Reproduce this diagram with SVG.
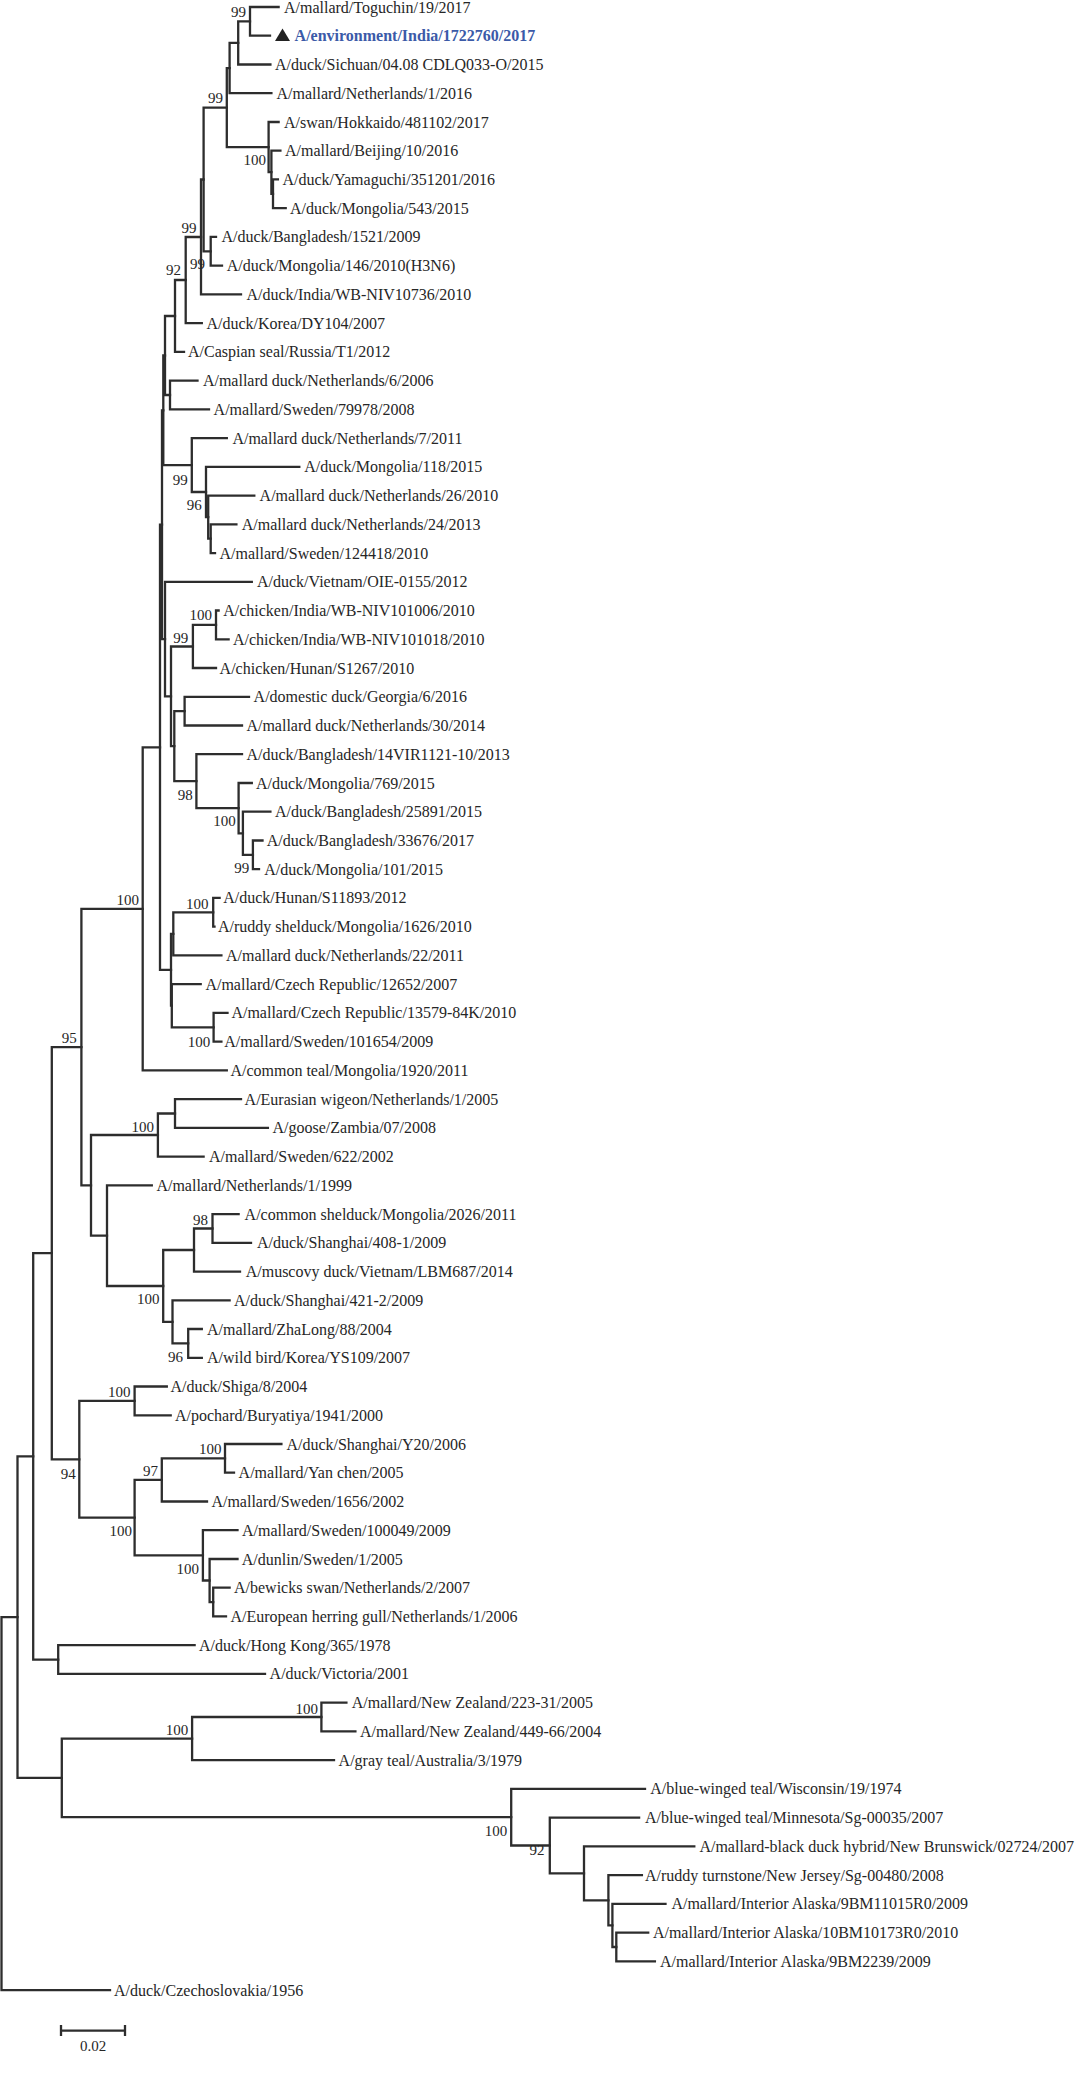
<svg xmlns="http://www.w3.org/2000/svg" width="1077" height="2076" viewBox="0 0 1077 2076">
<style>
.e{fill:none;stroke:#2d2d2d;stroke-width:2.3;stroke-linecap:square}
.t{font-family:"Liberation Serif","Times New Roman",serif;font-size:16px;fill:#262626}
.b{font-family:"Liberation Serif","Times New Roman",serif;font-size:15px;fill:#262626;text-anchor:end}
.hl{font-weight:bold;fill:#3b5aa8}
</style>
<rect width="1077" height="2076" fill="#fff"/>
<g id="connectors">
<path class="e" d="M1.5 1803.6V1617.2H17.5M1.5 1803.6V1990.1H110"/>
<path class="e" d="M17.5 1617.2V1456.4H33.2M17.5 1617.2V1777.9H61.8"/>
<path class="e" d="M33.2 1456.4V1253.2H51.8M33.2 1456.4V1659.6H58.2"/>
<path class="e" d="M51.8 1253.2V1047.1H81.4M51.8 1253.2V1459.3H79.3"/>
<path class="e" d="M81.4 1047.1V908.8H142.7M81.4 1047.1V1185.4H91"/>
<path class="e" d="M142.7 908.8V747.3H160M142.7 908.8V1070.4H226.8"/>
<path class="e" d="M160 747.3V524.7H162M160 747.3V969.8H171"/>
<path class="e" d="M162 524.7V410.3H163.3M162 524.7V639.1H165"/>
<path class="e" d="M163.3 410.3V355.5H165M163.3 410.3V465.1H191.8"/>
<path class="e" d="M165 355.5V316H175M165 355.5V395H170"/>
<path class="e" d="M175 316V280H185.7M175 316V351.9H184"/>
<path class="e" d="M185.7 280V237H201M185.7 280V323.1H201.8"/>
<path class="e" d="M201 237V179.5H203.6M201 237V294.4H241"/>
<path class="e" d="M203.6 179.5V107.6H226.8M203.6 179.5V251.3H210.7"/>
<path class="e" d="M210.7 251.3V236.9H216M210.7 251.3V265.7H222"/>
<path class="e" d="M226.8 107.6V68.1H229.6M226.8 107.6V147.1H268.6"/>
<path class="e" d="M229.6 68.1V42.9H238.2M229.6 68.1V93.2H271.4"/>
<path class="e" d="M238.2 42.9V21.4H250M238.2 42.9V64.5H270.4"/>
<path class="e" d="M250 21.4V7H278.6M250 21.4V35.7H270"/>
<path class="e" d="M268.6 147.1V122H278.6M268.6 147.1V172.2H271.4"/>
<path class="e" d="M271.4 172.2V150.7H280.4M271.4 172.2V193.8H273"/>
<path class="e" d="M273 193.8V179.4H277.9M273 193.8V208.2H285.7"/>
<path class="e" d="M170 395V380.6H197.5M170 395V409.4H209"/>
<path class="e" d="M191.8 465.1V438.1H226.8M191.8 465.1V492H206"/>
<path class="e" d="M206 492V466.8H299.3M206 492V517.1H208.2"/>
<path class="e" d="M208.2 517.1V495.6H254.3M208.2 517.1V538.7H210.7"/>
<path class="e" d="M210.7 538.7V524.3H236.4M210.7 538.7V553.1H215"/>
<path class="e" d="M165 639.1V581.8H251.8M165 639.1V696.3H171"/>
<path class="e" d="M171 696.3V646.5H192.9M171 696.3V746.2H174.3"/>
<path class="e" d="M192.9 646.5V624.9H216M192.9 646.5V668H216"/>
<path class="e" d="M216 624.9V610.5H218.6M216 624.9V639.3H228.6"/>
<path class="e" d="M174.3 746.2V711.1H184.6M174.3 746.2V781.2H196.4"/>
<path class="e" d="M184.6 711.1V696.8H249M184.6 711.1V725.5H242"/>
<path class="e" d="M196.4 781.2V754.2H242M196.4 781.2V808.1H238.6"/>
<path class="e" d="M238.6 808.1V783H251.8M238.6 808.1V833.3H242.9"/>
<path class="e" d="M242.9 833.3V811.7H270.4M242.9 833.3V854.8H252.9"/>
<path class="e" d="M252.9 854.8V840.5H262.5M252.9 854.8V869.2H259"/>
<path class="e" d="M171 969.8V933.9H173.3M171 969.8V1005.7H171.8"/>
<path class="e" d="M173.3 933.9V912.3H213.2M173.3 933.9V955.4H221.4"/>
<path class="e" d="M213.2 912.3V897.9H219.6M213.2 912.3V926.7H214.5"/>
<path class="e" d="M171.8 1005.7V984.2H200.7M171.8 1005.7V1027.3H213.6"/>
<path class="e" d="M213.6 1027.3V1012.9H227.5M213.6 1027.3V1041.6H221.4"/>
<path class="e" d="M91 1185.4V1135H157.9M91 1185.4V1235.7H107"/>
<path class="e" d="M157.9 1135V1113.5H175M157.9 1135V1156.6H203.6"/>
<path class="e" d="M175 1113.5V1099.1H241M175 1113.5V1127.9H267.9"/>
<path class="e" d="M107 1235.7V1185.3H151.8M107 1235.7V1286H163.2"/>
<path class="e" d="M163.2 1286V1250H194M163.2 1286V1321.9H172.5"/>
<path class="e" d="M194 1250V1228.5H212.5M194 1250V1271.6H240"/>
<path class="e" d="M212.5 1228.5V1214.1H238.6M212.5 1228.5V1242.8H251"/>
<path class="e" d="M172.5 1321.9V1300.3H229.6M172.5 1321.9V1343.4H188.2"/>
<path class="e" d="M188.2 1343.4V1329H201.8M188.2 1343.4V1357.8H201.8"/>
<path class="e" d="M79.3 1459.3V1400.9H134.6M79.3 1459.3V1517.6H134.6"/>
<path class="e" d="M134.6 1400.9V1386.5H166.8M134.6 1400.9V1415.3H170.7"/>
<path class="e" d="M134.6 1517.6V1479.9H161.8M134.6 1517.6V1555.4H202.9"/>
<path class="e" d="M161.8 1479.9V1458.4H225M161.8 1479.9V1501.5H207"/>
<path class="e" d="M225 1458.4V1444H281.4M225 1458.4V1472.7H234"/>
<path class="e" d="M202.9 1555.4V1530.2H237.5M202.9 1555.4V1580.5H209.6"/>
<path class="e" d="M209.6 1580.5V1559H237.5M209.6 1580.5V1602.1H213.2"/>
<path class="e" d="M213.2 1602.1V1587.7H229.6M213.2 1602.1V1616.4H226"/>
<path class="e" d="M58.2 1659.6V1645.2H194.6M58.2 1659.6V1673.9H265"/>
<path class="e" d="M61.8 1777.9V1738.6H192.1M61.8 1777.9V1817.2H511.2"/>
<path class="e" d="M192.1 1738.6V1717H321.4M192.1 1738.6V1760.1H334"/>
<path class="e" d="M321.4 1717V1702.7H346.4M321.4 1717V1731.4H355.4"/>
<path class="e" d="M511.2 1817.2V1788.9H645M511.2 1817.2V1845.5H549.8"/>
<path class="e" d="M549.8 1845.5V1817.6H639.1M549.8 1845.5V1873.3H584"/>
<path class="e" d="M584 1873.3V1846.4H694.3M584 1873.3V1900.3H608.4"/>
<path class="e" d="M608.4 1900.3V1875.1H641.9M608.4 1900.3V1925.4H612.4"/>
<path class="e" d="M612.4 1925.4V1903.8H665.5M612.4 1925.4V1947H616.3"/>
<path class="e" d="M616.3 1947V1932.6H648.2M616.3 1947V1961.3H654.9"/>
</g>
<g id="leaves">
<g id="leaf00"><text class="t" x="284" y="12.5">A/mallard/Toguchin/19/2017</text></g>
<g id="leaf01"><polygon points="275,41 290,41 282.5,28.5" fill="#222"/><text class="t hl" x="294.6" y="41.2">A/environment/India/1722760/2017</text></g>
<g id="leaf02"><text class="t" x="275" y="70">A/duck/Sichuan/04.08 CDLQ033-O/2015</text></g>
<g id="leaf03"><text class="t" x="276.5" y="98.7">A/mallard/Netherlands/1/2016</text></g>
<g id="leaf04"><text class="t" x="284" y="127.5">A/swan/Hokkaido/481102/2017</text></g>
<g id="leaf05"><text class="t" x="285" y="156.2">A/mallard/Beijing/10/2016</text></g>
<g id="leaf06"><text class="t" x="282.5" y="184.9">A/duck/Yamaguchi/351201/2016</text></g>
<g id="leaf07"><text class="t" x="290" y="213.7">A/duck/Mongolia/543/2015</text></g>
<g id="leaf08"><text class="t" x="221.4" y="242.4">A/duck/Bangladesh/1521/2009</text></g>
<g id="leaf09"><text class="t" x="226.8" y="271.2">A/duck/Mongolia/146/2010(H3N6)</text></g>
<g id="leaf10"><text class="t" x="246.4" y="299.9">A/duck/India/WB-NIV10736/2010</text></g>
<g id="leaf11"><text class="t" x="206.4" y="328.6">A/duck/Korea/DY104/2007</text></g>
<g id="leaf12"><text class="t" x="188" y="357.4">A/Caspian seal/Russia/T1/2012</text></g>
<g id="leaf13"><text class="t" x="202.9" y="386.1">A/mallard duck/Netherlands/6/2006</text></g>
<g id="leaf14"><text class="t" x="213.6" y="414.9">A/mallard/Sweden/79978/2008</text></g>
<g id="leaf15"><text class="t" x="232.4" y="443.6">A/mallard duck/Netherlands/7/2011</text></g>
<g id="leaf16"><text class="t" x="304.3" y="472.3">A/duck/Mongolia/118/2015</text></g>
<g id="leaf17"><text class="t" x="259.6" y="501.1">A/mallard duck/Netherlands/26/2010</text></g>
<g id="leaf18"><text class="t" x="241.8" y="529.8">A/mallard duck/Netherlands/24/2013</text></g>
<g id="leaf19"><text class="t" x="219.5" y="558.6">A/mallard/Sweden/124418/2010</text></g>
<g id="leaf20"><text class="t" x="257" y="587.3">A/duck/Vietnam/OIE-0155/2012</text></g>
<g id="leaf21"><text class="t" x="223.2" y="616">A/chicken/India/WB-NIV101006/2010</text></g>
<g id="leaf22"><text class="t" x="232.9" y="644.8">A/chicken/India/WB-NIV101018/2010</text></g>
<g id="leaf23"><text class="t" x="219.6" y="673.5">A/chicken/Hunan/S1267/2010</text></g>
<g id="leaf24"><text class="t" x="253.6" y="702.3">A/domestic duck/Georgia/6/2016</text></g>
<g id="leaf25"><text class="t" x="246.4" y="731">A/mallard duck/Netherlands/30/2014</text></g>
<g id="leaf26"><text class="t" x="246.4" y="759.7">A/duck/Bangladesh/14VIR1121-10/2013</text></g>
<g id="leaf27"><text class="t" x="256" y="788.5">A/duck/Mongolia/769/2015</text></g>
<g id="leaf28"><text class="t" x="275" y="817.2">A/duck/Bangladesh/25891/2015</text></g>
<g id="leaf29"><text class="t" x="266.8" y="846">A/duck/Bangladesh/33676/2017</text></g>
<g id="leaf30"><text class="t" x="264.3" y="874.7">A/duck/Mongolia/101/2015</text></g>
<g id="leaf31"><text class="t" x="223.2" y="903.4">A/duck/Hunan/S11893/2012</text></g>
<g id="leaf32"><text class="t" x="217.9" y="932.2">A/ruddy shelduck/Mongolia/1626/2010</text></g>
<g id="leaf33"><text class="t" x="226" y="960.9">A/mallard duck/Netherlands/22/2011</text></g>
<g id="leaf34"><text class="t" x="205.4" y="989.7">A/mallard/Czech Republic/12652/2007</text></g>
<g id="leaf35"><text class="t" x="231.4" y="1018.4">A/mallard/Czech Republic/13579-84K/2010</text></g>
<g id="leaf36"><text class="t" x="224.3" y="1047.1">A/mallard/Sweden/101654/2009</text></g>
<g id="leaf37"><text class="t" x="230.4" y="1075.9">A/common teal/Mongolia/1920/2011</text></g>
<g id="leaf38"><text class="t" x="244.6" y="1104.6">A/Eurasian wigeon/Netherlands/1/2005</text></g>
<g id="leaf39"><text class="t" x="272.5" y="1133.4">A/goose/Zambia/07/2008</text></g>
<g id="leaf40"><text class="t" x="209" y="1162.1">A/mallard/Sweden/622/2002</text></g>
<g id="leaf41"><text class="t" x="156.4" y="1190.8">A/mallard/Netherlands/1/1999</text></g>
<g id="leaf42"><text class="t" x="244.6" y="1219.6">A/common shelduck/Mongolia/2026/2011</text></g>
<g id="leaf43"><text class="t" x="257" y="1248.3">A/duck/Shanghai/408-1/2009</text></g>
<g id="leaf44"><text class="t" x="245.7" y="1277.1">A/muscovy duck/Vietnam/LBM687/2014</text></g>
<g id="leaf45"><text class="t" x="234" y="1305.8">A/duck/Shanghai/421-2/2009</text></g>
<g id="leaf46"><text class="t" x="207" y="1334.5">A/mallard/ZhaLong/88/2004</text></g>
<g id="leaf47"><text class="t" x="207" y="1363.3">A/wild bird/Korea/YS109/2007</text></g>
<g id="leaf48"><text class="t" x="170.4" y="1392">A/duck/Shiga/8/2004</text></g>
<g id="leaf49"><text class="t" x="175" y="1420.8">A/pochard/Buryatiya/1941/2000</text></g>
<g id="leaf50"><text class="t" x="286.4" y="1449.5">A/duck/Shanghai/Y20/2006</text></g>
<g id="leaf51"><text class="t" x="238.6" y="1478.2">A/mallard/Yan chen/2005</text></g>
<g id="leaf52"><text class="t" x="211.4" y="1507">A/mallard/Sweden/1656/2002</text></g>
<g id="leaf53"><text class="t" x="242" y="1535.7">A/mallard/Sweden/100049/2009</text></g>
<g id="leaf54"><text class="t" x="241.8" y="1564.5">A/dunlin/Sweden/1/2005</text></g>
<g id="leaf55"><text class="t" x="234" y="1593.2">A/bewicks swan/Netherlands/2/2007</text></g>
<g id="leaf56"><text class="t" x="230.4" y="1621.9">A/European herring gull/Netherlands/1/2006</text></g>
<g id="leaf57"><text class="t" x="199" y="1650.7">A/duck/Hong Kong/365/1978</text></g>
<g id="leaf58"><text class="t" x="269.6" y="1679.4">A/duck/Victoria/2001</text></g>
<g id="leaf59"><text class="t" x="351.8" y="1708.2">A/mallard/New Zealand/223-31/2005</text></g>
<g id="leaf60"><text class="t" x="360" y="1736.9">A/mallard/New Zealand/449-66/2004</text></g>
<g id="leaf61"><text class="t" x="338.6" y="1765.6">A/gray teal/Australia/3/1979</text></g>
<g id="leaf62"><text class="t" x="650.2" y="1794.4">A/blue-winged teal/Wisconsin/19/1974</text></g>
<g id="leaf63"><text class="t" x="645" y="1823.1">A/blue-winged teal/Minnesota/Sg-00035/2007</text></g>
<g id="leaf64"><text class="t" x="699.4" y="1851.9">A/mallard-black duck hybrid/New Brunswick/02724/2007</text></g>
<g id="leaf65"><text class="t" x="645" y="1880.6">A/ruddy turnstone/New Jersey/Sg-00480/2008</text></g>
<g id="leaf66"><text class="t" x="671.4" y="1909.3">A/mallard/Interior Alaska/9BM11015R0/2009</text></g>
<g id="leaf67"><text class="t" x="652.9" y="1938.1">A/mallard/Interior Alaska/10BM10173R0/2010</text></g>
<g id="leaf68"><text class="t" x="660" y="1966.8">A/mallard/Interior Alaska/9BM2239/2009</text></g>
<g id="leaf69"><text class="t" x="114" y="1995.6">A/duck/Czechoslovakia/1956</text></g>
</g>
<g id="bootstrap">
<g id="bs-N1"><text class="b" x="246" y="17">99</text></g>
<g id="bs-N4"><text class="b" x="223" y="103">99</text></g>
<g id="bs-N5"><text class="b" x="266" y="165">100</text></g>
<g id="bs-N10"><text class="b" x="196.4" y="233">99</text></g>
<g id="bs-N9"><text class="b" x="205" y="269">99</text></g>
<g id="bs-N11"><text class="b" x="181" y="275">92</text></g>
<g id="bs-Nd"><text class="b" x="187.7" y="485">99</text></g>
<g id="bs-Nc"><text class="b" x="201.7" y="510">96</text></g>
<g id="bs-C1"><text class="b" x="212" y="620">100</text></g>
<g id="bs-C2"><text class="b" x="188.3" y="643">99</text></g>
<g id="bs-B1"><text class="b" x="192.8" y="799.5">98</text></g>
<g id="bs-B3"><text class="b" x="235.7" y="826">100</text></g>
<g id="bs-B4"><text class="b" x="249.3" y="873">99</text></g>
<g id="bs-Nbig"><text class="b" x="139" y="904.5">100</text></g>
<g id="bs-H1"><text class="b" x="208.5" y="908.5">100</text></g>
<g id="bs-Z1"><text class="b" x="210.3" y="1046.5">100</text></g>
<g id="bs-T1"><text class="b" x="76.8" y="1042.5">95</text></g>
<g id="bs-W2"><text class="b" x="154" y="1132">100</text></g>
<g id="bs-S1"><text class="b" x="208" y="1224.5">98</text></g>
<g id="bs-S5"><text class="b" x="159.6" y="1304">100</text></g>
<g id="bs-S4"><text class="b" x="182.9" y="1362">96</text></g>
<g id="bs-U1"><text class="b" x="130.4" y="1397">100</text></g>
<g id="bs-U8"><text class="b" x="75.7" y="1478.5">94</text></g>
<g id="bs-U3"><text class="b" x="157.9" y="1476">97</text></g>
<g id="bs-U2"><text class="b" x="221.4" y="1453.5">100</text></g>
<g id="bs-U7"><text class="b" x="132" y="1536">100</text></g>
<g id="bs-U4"><text class="b" x="199" y="1574">100</text></g>
<g id="bs-D1"><text class="b" x="188.2" y="1735">100</text></g>
<g id="bs-F1"><text class="b" x="317.9" y="1713.5">100</text></g>
<g id="bs-E"><text class="b" x="507.2" y="1836">100</text></g>
<g id="bs-G"><text class="b" x="544.6" y="1855">92</text></g>
</g>
<g id="scale-bar">
<path class="e" d="M61 2030.7H125M61 2025V2036M125 2025V2036" style="stroke-linecap:butt"/>
<text class="t" x="93" y="2050.5" text-anchor="middle" style="font-size:15px">0.02</text>
</g>
</svg>
